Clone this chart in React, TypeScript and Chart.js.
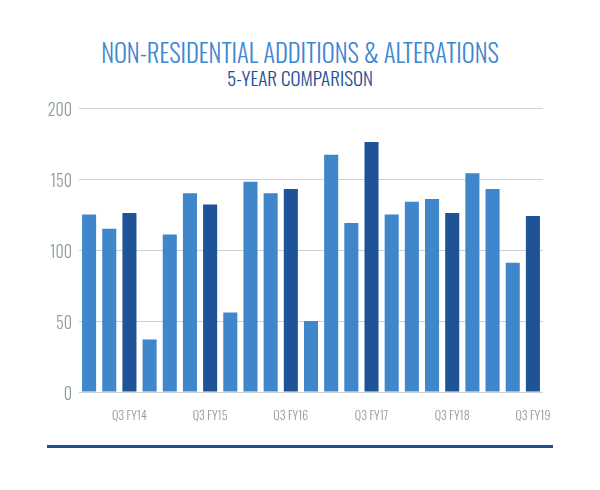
import React, { useEffect, useLayoutEffect, useRef } from "react";
import { Chart, registerables } from "chart.js";

Chart.register(...registerables);

const categories = [
  "Q1 FY14", "Q2 FY14", "Q3 FY14", "Q4 FY14",
  "Q1 FY15", "Q2 FY15", "Q3 FY15", "Q4 FY15",
  "Q1 FY16", "Q2 FY16", "Q3 FY16", "Q4 FY16",
  "Q1 FY17", "Q2 FY17", "Q3 FY17", "Q4 FY17",
  "Q1 FY18", "Q2 FY18", "Q3 FY18", "Q4 FY18",
  "Q1 FY19", "Q2 FY19", "Q3 FY19",
];
const values = [125, 115, 126, 37, 111, 140, 132, 56, 148, 140, 143, 50, 167, 119, 176, 125, 134, 136, 126, 154, 143, 91, 124];
const yTicks = [0, 50, 100, 150, 200];

const TITLE = "NON-RESIDENTIAL ADDITIONS & ALTERATIONS";
const SUBTITLE = "5-YEAR COMPARISON";

const LIGHT = "#3f86cb";
const DARK = "#1f5398";
const FONT = "Oswald, 'Roboto Condensed', sans-serif";

function FitText({ text, width, top, size, color, weight }: { text: string; width: number; top: number; size: number; color: string; weight: number }) {
  const ref = useRef<HTMLSpanElement>(null);
  useLayoutEffect(() => {
    const el = ref.current;
    if (!el) return;
    el.style.fontSize = size + "px";
    const w = el.getBoundingClientRect().width;
    el.style.fontSize = (size * width) / w + "px";
  }, [text, width, size]);
  return (
    <div style={{ position: "absolute", left: 0, top, width: 600, textAlign: "center", lineHeight: 1 }}>
      <span
        ref={ref}
        style={{
          fontFamily: FONT,
          fontSize: size,
          fontWeight: weight,
          color,
          whiteSpace: "nowrap",
        }}
      >
        {text}
      </span>
    </div>
  );
}

const shiftYLabels = {
  id: "shiftYLabels",
  afterLayout(chart: any) {
    const sc = chart.scales.y;
    if (!sc || sc._shifted) return;
    const orig = sc.drawLabels.bind(sc);
    sc.drawLabels = (area: any) => {
      const ctx = chart.ctx;
      ctx.save();
      ctx.translate(0, 3);
      orig(area);
      ctx.restore();
    };
    sc._shifted = true;
  },
};

export default function App() {
  const canvasRef = useRef<HTMLCanvasElement>(null);

  useEffect(() => {
    const canvas = canvasRef.current;
    if (!canvas) return;
    const chart = new Chart(canvas, {
      type: "bar",
      data: {
        labels: categories,
        datasets: [
          {
            data: values,
            backgroundColor: categories.map((c) => (c.startsWith("Q3") ? DARK : LIGHT)),
            barPercentage: 0.85,
            categoryPercentage: 0.82,
          },
        ],
      },
      options: {
        animation: false,
        responsive: false,
        maintainAspectRatio: false,
        layout: { padding: { top: 108, right: 57, bottom: 0, left: 0 } },
        plugins: {
          legend: { display: false },
          title: { display: false },
          tooltip: { enabled: false },
        },
        scales: {
          x: {
            grid: { display: false },
            border: { display: false },
            ticks: {
              autoSkip: false,
              maxRotation: 0,
              minRotation: 0,
              padding: 9,
              color: "#8d9c9c",
              font: { family: FONT, size: 12, weight: 300 as any },
              callback: (_v: any, i: number) => (categories[i].startsWith("Q3") ? categories[i] : ""),
            },
            afterFit: (s: any) => { s.height = 98; },
          },
          y: {
            min: 0,
            max: 200,
            afterBuildTicks: (s: any) => { s.ticks = yTicks.map((v) => ({ value: v })); },
            grid: { color: "#c9d3d3", drawTicks: false, lineWidth: 1 },
            border: { display: false },
            ticks: {
              padding: 7,
              color: "#8d9c9c",
              font: { family: FONT, size: 16, weight: 300 as any },
            },
            afterFit: (s: any) => { s.width = 79; },
          },
        },
      },
      plugins: [shiftYLabels],
    });
    return () => chart.destroy();
  }, []);

  return (
    <div style={{ position: "absolute", left: 0, top: 0, width: 600, height: 490, background: "#fff", overflow: "hidden" }}>
      <FitText text={TITLE} width={398} top={40} size={25} color="#3d87d0" weight={300} />
      <FitText text={SUBTITLE} width={146} top={68} size={18} color="#1e4f95" weight={300} />
      <canvas ref={canvasRef} width={600} height={490} style={{ position: "absolute", left: 0, top: 0 }} />
      <div style={{ position: "absolute", left: 47, top: 445, width: 506, height: 3, background: "#1f4f96" }} />
    </div>
  );
}
